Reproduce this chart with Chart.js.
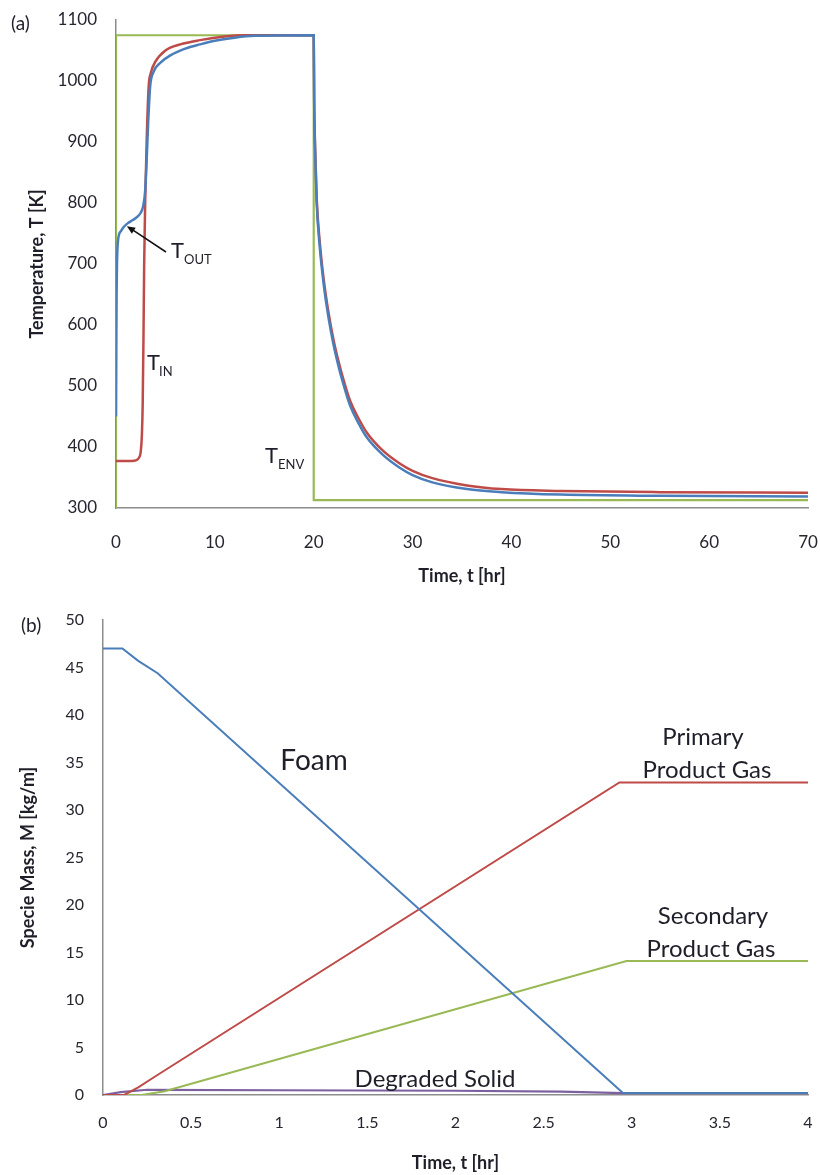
<!DOCTYPE html>
<html>
<head>
<meta charset="utf-8">
<script src="https://cdn.jsdelivr.net/npm/chart.js@4.4.0/dist/chart.umd.min.js"></script>
<style>
  body { margin: 0; background: #fff; }
  .wrap { position: absolute; left: 0; width: 820px; }
</style>
</head>
<body>
<div class="wrap" style="top:0;height:600px"><canvas id="chartA" width="820" height="600"></canvas></div>
<div class="wrap" style="top:600px;height:575px"><canvas id="chartB" width="820" height="575"></canvas></div>
<script>
// (a) temperatures
const outTime = [0, 0.03, 0.06, 0.1, 0.2, 0.5, 0.8, 1.2, 1.7, 2.2, 2.5, 2.75, 2.95, 3.1, 3.25, 3.45, 3.8, 4.5, 5.5, 7, 8.5, 10, 12, 14, 20, 20.05, 20.15, 20.3, 20.6, 21, 21.5, 22, 22.5, 23, 23.7, 24.5, 25.4, 27, 28.7, 30, 32, 35.5, 39, 45, 55, 70];
const outTemp = [450, 560, 650, 700, 738, 754, 761, 767, 772, 778, 784, 795, 820, 870, 930, 990, 1015, 1030, 1042, 1053, 1060, 1066, 1071, 1074, 1075, 960, 880, 800, 730, 668, 612, 568, 533, 503, 467, 440, 415, 387, 366, 354, 342, 331, 326, 322, 320, 319];
const inTime = [0, 1.6, 2.0, 2.3, 2.5, 2.62, 2.7, 2.78, 2.85, 2.95, 3.1, 3.3, 3.5, 4.0, 5.0, 6.5, 8.5, 11, 13, 20, 20.05, 20.15, 20.3, 20.6, 21, 21.5, 22, 22.5, 23, 23.7, 24.5, 25.4, 27, 28.7, 30, 32, 35.5, 39, 45, 55, 70];
const inTemp = [377, 377, 378, 382, 392, 420, 470, 580, 700, 800, 900, 990, 1012, 1032, 1050, 1060, 1067, 1073, 1075, 1075, 965, 888, 808, 738, 676, 620, 576, 541, 511, 475, 448, 423, 394, 373, 361, 349, 337, 331, 328, 326, 325];
const envTime = [0, 0, 20, 20, 70];
const envTemp = [300, 1075, 1075, 313, 313];
const tempTicks = [300, 1100, 100];   // min, max, step
const timeTicksA = [0, 70, 10];

// (b) specie masses
const foamTime = [0, 0.11, 0.2, 0.31, 2.95, 4];
const foamMass = [47, 47, 45.7, 44.4, 0.2, 0.2];
const primTime = [0, 0.12, 0.2, 0.3, 2.93, 4];
const primMass = [0, 0, 0.8, 2, 32.9, 32.9];
const secTime = [0, 0.22, 0.35, 2.97, 4];
const secMass = [0, 0, 0.4, 14.1, 14.1];
const degTime = [0, 0.1, 0.25, 1.0, 2.0, 2.6, 2.95, 4];
const degMass = [0, 0.3, 0.55, 0.5, 0.45, 0.35, 0.2, 0.2];
const massTicks = [0, 50, 5];
const timeTicksB = [0, 4, 0.5];

const BLUE = '#4a7ebb', RED = '#be4b48', GREEN = '#98b954', PURPLE = '#7d60a0';
const FONT = 'Lato, "Liberation Sans", sans-serif';
const INK = '#1f1f2a';

function pts(xs, ys) {
  return xs.map((x, i) => ({ x: x, y: ys[i] }));
}

function line(data, color, width, smooth) {
  return {
    data: data,
    borderColor: color,
    borderWidth: width,
    pointRadius: 0,
    fill: false,
    tension: 0,
    cubicInterpolationMode: smooth ? 'monotone' : 'default'
  };
}

// draws free text labels and the arrow
const notesPlugin = {
  id: 'notes',
  afterDraw(chart, args, opts) {
    const ctx = chart.ctx;
    (opts.items || []).forEach(it => {
      ctx.save();
      ctx.font = it.font;
      ctx.fillStyle = INK;
      ctx.textAlign = it.align || 'left';
      ctx.textBaseline = 'alphabetic';
      ctx.fillText(it.text, it.x, it.y);
      ctx.restore();
    });
    if (opts.arrow) {
      const a = opts.arrow;
      const tx = chart.scales.x.getPixelForValue(a.to[0]);
      const ty = chart.scales.y.getPixelForValue(a.to[1]);
      const ang = Math.atan2(ty - a.from[1], tx - a.from[0]);
      ctx.save();
      ctx.strokeStyle = '#111';
      ctx.fillStyle = '#111';
      ctx.lineWidth = 1.5;
      ctx.beginPath();
      ctx.moveTo(a.from[0], a.from[1]);
      ctx.lineTo(tx - 6 * Math.cos(ang), ty - 6 * Math.sin(ang));
      ctx.stroke();
      ctx.beginPath();
      ctx.moveTo(tx, ty);
      ctx.lineTo(tx - 9 * Math.cos(ang - 0.4), ty - 9 * Math.sin(ang - 0.4));
      ctx.lineTo(tx - 9 * Math.cos(ang + 0.4), ty - 9 * Math.sin(ang + 0.4));
      ctx.closePath();
      ctx.fill();
      ctx.restore();
    }
  }
};

function noPad(s) {
  s.paddingTop = 0; s.paddingBottom = 0; s.paddingLeft = 0; s.paddingRight = 0;
}

function axes(xt, yt, xTitle, yTitle, yWidth, xHeight, yTitlePad, xTitlePad, tickSize, xTickPad) {
  const tickFont = { family: FONT, size: tickSize };
  const titleFont = { family: FONT, size: 18, weight: 'bold' };
  return {
    x: {
      type: 'linear', min: xt[0], max: xt[1],
      ticks: { stepSize: xt[2], color: '#262630', font: tickFont, padding: xTickPad, maxRotation: 0, callback: v => String(v) },
      grid: { drawOnChartArea: false, drawTicks: false },
      border: { color: '#8c8c8c', width: 1.5 },
      title: { display: true, text: xTitle, color: INK, font: titleFont, padding: { top: 4, bottom: xTitlePad } },
      afterFit: s => { s.height = xHeight; noPad(s); }
    },
    y: {
      type: 'linear', min: yt[0], max: yt[1],
      ticks: { stepSize: yt[2], color: '#262630', font: tickFont, padding: 19, callback: v => String(v) },
      grid: { drawOnChartArea: false, drawTicks: false },
      border: { color: '#8c8c8c', width: 1.5 },
      title: { display: true, text: yTitle, color: INK, font: titleFont, padding: { top: yTitlePad, bottom: 0 } },
      afterFit: s => { s.width = yWidth; noPad(s); }
    }
  };
}

new Chart(document.getElementById('chartA'), {
  type: 'line',
  data: {
    datasets: [
      line(pts(outTime, outTemp), BLUE, 2.5, true),
      line(pts(inTime, inTemp), RED, 2.5, true),
      line(pts(envTime, envTemp), GREEN, 2.2, false)
    ]
  },
  options: {
    responsive: false,
    animation: false,
    layout: { padding: { left: 0, right: 12, top: 20, bottom: 0 } },
    plugins: {
      legend: { display: false },
      tooltip: { enabled: false },
      notes: {
        items: [
          { text: '(a)', x: 11, y: 30, font: '19px ' + FONT },
          { text: 'T', x: 171, y: 258, font: '22px ' + FONT },
          { text: 'OUT', x: 184, y: 264, font: '13px ' + FONT },
          { text: 'T', x: 147, y: 370, font: '22px ' + FONT },
          { text: 'IN', x: 159, y: 376, font: '13px ' + FONT },
          { text: 'T', x: 265, y: 463, font: '22px ' + FONT },
          { text: 'ENV', x: 278, y: 469, font: '13px ' + FONT }
        ],
        arrow: { from: [166, 252], to: [1.1, 762] }
      }
    },
    scales: axes(timeTicksA, tempTicks, 'Time, t [hr]', 'Temperature, T [K]', 116, 92, 26, 13, 17, 24)
  },
  plugins: [notesPlugin]
});

new Chart(document.getElementById('chartB'), {
  type: 'line',
  data: {
    datasets: [
      line(pts(foamTime, foamMass), BLUE, 2, false),
      line(pts(primTime, primMass), RED, 2, false),
      line(pts(secTime, secMass), GREEN, 2, false),
      line(pts(degTime, degMass), PURPLE, 2.2, false)
    ]
  },
  options: {
    responsive: false,
    animation: false,
    layout: { padding: { left: 0, right: 12, top: 20, bottom: 0 } },
    plugins: {
      legend: { display: false },
      tooltip: { enabled: false },
      notes: {
        items: [
          { text: '(b)', x: 21, y: 32, font: '19px ' + FONT },
          { text: 'Foam', x: 314, y: 170, font: '28px ' + FONT, align: 'center' },
          { text: 'Primary', x: 703, y: 145, font: '24px ' + FONT, align: 'center' },
          { text: 'Product Gas', x: 707, y: 178, font: '24px ' + FONT, align: 'center' },
          { text: 'Secondary', x: 713, y: 324, font: '24px ' + FONT, align: 'center' },
          { text: 'Product Gas', x: 711, y: 357, font: '24px ' + FONT, align: 'center' },
          { text: 'Degraded Solid', x: 435, y: 487, font: '24px ' + FONT, align: 'center' }
        ]
      }
    },
    scales: axes(timeTicksB, massTicks, 'Time, t [hr]', 'Specie Mass, M [kg/m]', 103, 80, 17, 1, 16, 18)
  },
  plugins: [notesPlugin]
});
</script>
</body>
</html>
